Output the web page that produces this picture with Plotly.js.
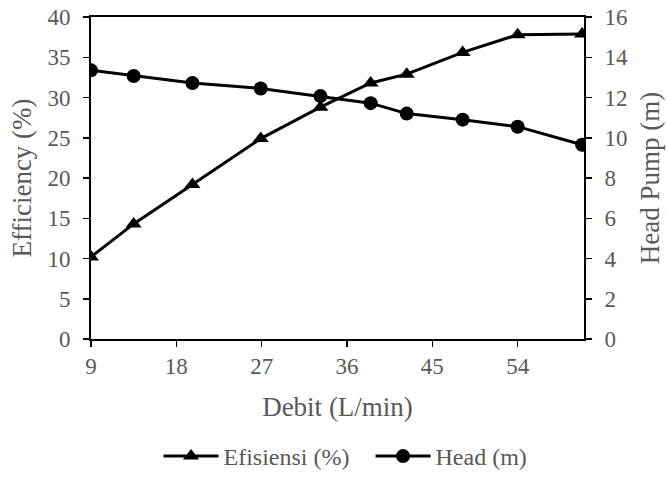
<!DOCTYPE html>
<html>
<head>
<meta charset="utf-8">
<script src="https://cdn.plot.ly/plotly-3.0.1.min.js"></script>
<style>html,body{margin:0;padding:0;background:#fff;}#chart{width:667px;height:495px;}</style>
</head>
<body>
<div id="chart"></div>
<script>
const debit = [9, 13.5, 19.7, 26.9, 33.2, 38.5, 42.3, 48.2, 54, 60.8];
const efisiensi = [10.2, 14.3, 19.2, 24.9, 28.8, 31.8, 32.9, 35.6, 37.8, 37.9];
const head = [13.35, 13.07, 12.72, 12.45, 12.07, 11.72, 11.2, 10.9, 10.55, 9.65];
const xTicks = [9, 18, 27, 36, 45, 54];

const gray = '#595959';
const fam = 'Liberation Serif, serif';
function f(size) { return {family: fam, size: size, color: gray}; }

const traces = [
  {x: debit, y: efisiensi, name: 'Efisiensi (%)', type: 'scatter', mode: 'lines+markers',
   line: {color: '#000', width: 3}, marker: {symbol: 'triangle-up', size: 14, color: '#000'}, yaxis: 'y'},
  {x: debit, y: head, name: 'Head (m)', type: 'scatter', mode: 'lines+markers',
   line: {color: '#000', width: 3}, marker: {symbol: 'circle', size: 14, color: '#000'}, yaxis: 'y2'}
];

const layout = {
  width: 667, height: 495,
  margin: {l: 91, r: 83, t: 17, b: 156},
  paper_bgcolor: '#fff', plot_bgcolor: '#fff',
  showlegend: true,
  legend: {orientation: 'h', x: 0.567, xanchor: 'center', y: -0.295, yanchor: 'top', font: f(24),
    itemwidth: 55, entrywidth: 142, entrywidthmode: 'pixels'},
  xaxis: {range: [9, 61], tickvals: xTicks, ticktext: xTicks.map(String), showgrid: false, zeroline: false,
    showline: true, linecolor: '#000', linewidth: 2, mirror: true, ticks: 'outside', ticklen: 6, tickwidth: 1.5,
    tickcolor: '#000', tickfont: f(23), ticklabelstandoff: -1, automargin: false,
    title: {text: 'Debit (L/min)', font: f(27), standoff: 20}},
  yaxis: {range: [0, 40], dtick: 5, showgrid: false, zeroline: false, showline: true, linecolor: '#000',
    linewidth: 2, ticks: 'outside', ticklen: 6, tickwidth: 1.5, tickcolor: '#000', tickfont: f(23),
    ticklabelstandoff: 8, automargin: false,
    title: {text: 'Efficiency (%)', font: f(27), standoff: 8}},
  yaxis2: {range: [0, 16], dtick: 2, overlaying: 'y', side: 'right', showgrid: false, zeroline: false,
    showline: true, linecolor: '#000', linewidth: 2, ticks: 'outside', ticklen: 6, tickwidth: 1.5, automargin: false,
    tickcolor: '#000', tickfont: f(23), ticklabelstandoff: 8,
    title: {text: 'Head Pump (m)', font: f(27), standoff: 13}}
};

Plotly.newPlot('chart', traces, layout, {displayModeBar: false, staticPlot: true});
</script>
</body>
</html>
